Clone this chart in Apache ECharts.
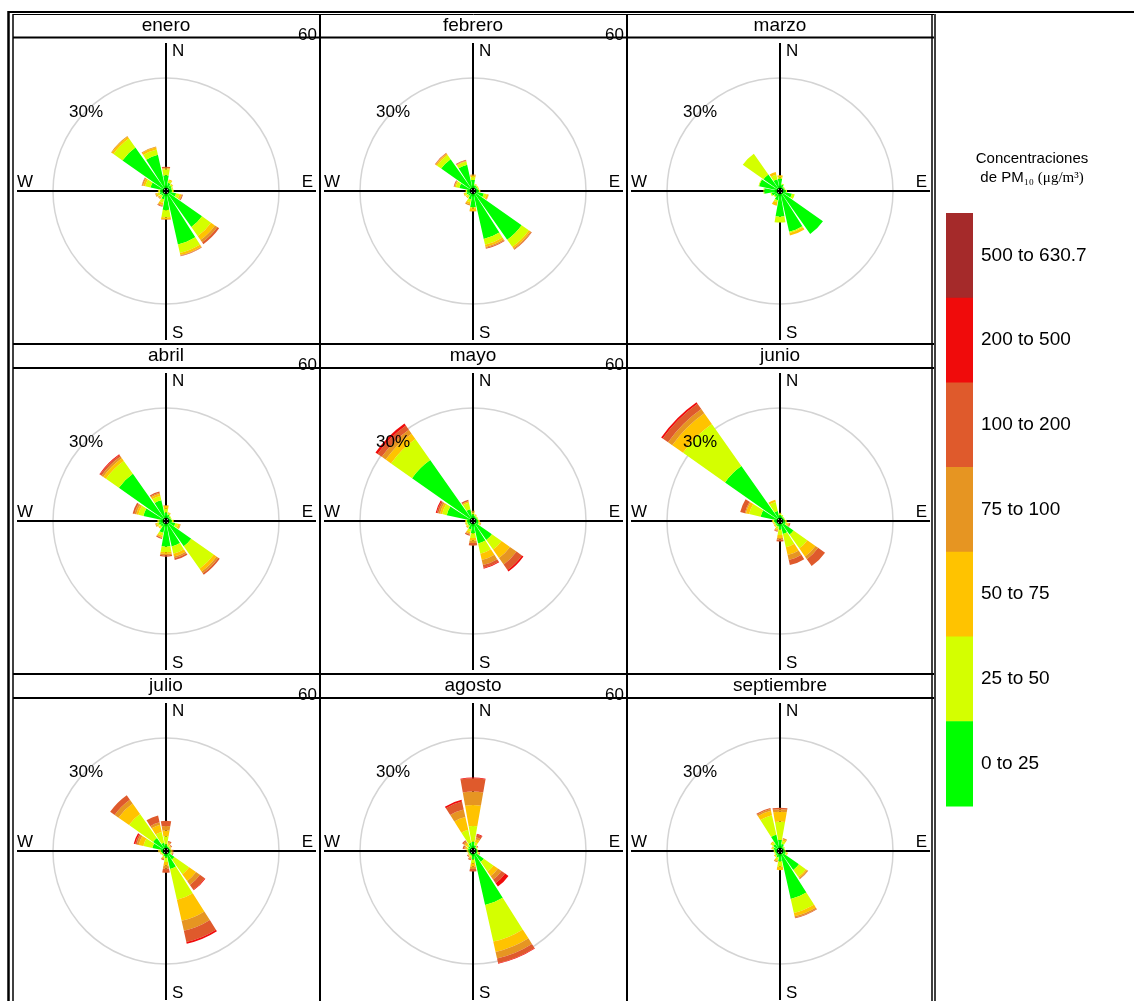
<!DOCTYPE html>
<html>
<head>
<meta charset="utf-8">
<script src="https://cdn.jsdelivr.net/npm/echarts@6/dist/echarts.min.js"></script>
<style>
  html, body { margin: 0; padding: 0; background: #fff; }
  #chart { width: 1134px; height: 1001px; }
</style>
</head>
<body>
<div id="chart"></div>
<script>
// direcciones (cada 22.5 grados, desde el norte en sentido horario)
const directions = ["N", "NNE", "NE", "ENE", "E", "ESE", "SE", "SSE", "S", "SSW", "SW", "WSW", "W", "WNW", "NW", "NNW"];
const bandLabels = ["0 to 25", "25 to 50", "50 to 75", "75 to 100", "100 to 200", "200 to 500", "500 to 630.7"];
const bandColors = ["#00FF00", "#D4FF00", "#FFC300", "#E69522", "#DF5A2C", "#F00B0B", "#A52A2A"];
const monthNames = ["enero", "febrero", "marzo", "abril", "mayo", "junio", "julio", "agosto", "septiembre"];
const radialTicks = [0, 30, 60];

// % de frecuencia por direccion; cada fila = bandas de concentracion apiladas
const enero = [
  [3.5, 1.6, 0.3, 0.1, 0.3], [1.5, 0.6, 0.3], [1.0, 0.4, 0.2], [0.8, 0.3, 0.1],
  [0.8, 0.3, 0.2], [2.0, 1.0, 0.5, 0.2, 0.2], [11.2, 3.0, 1.3, 0.8, 0.6], [14.1, 2.4, 0.6, 0.2, 0.1],
  [4.4, 2.0, 0.5, 0.1, 0.1], [1.5, 1.0, 0.6, 0.3, 0.2], [0.8, 0.5, 0.4, 0.2], [1.0, 0.6, 0.4, 0.2],
  [0.8, 0.4, 0.2], [3.5, 1.5, 0.6, 0.3, 0.1], [13.7, 3.0, 0.6, 0.2], [9.3, 1.5, 0.6, 0.2]
];
const febrero = [
  [2.2, 0.8, 0.5, 0.2], [0.8, 0.3, 0.1], [0.6, 0.3, 0.1], [0.6, 0.3],
  [0.8, 0.3, 0.1], [2.2, 0.8, 0.5, 0.1], [15.4, 2.4, 0.5, 0.3, 0.2], [12.6, 1.6, 0.6, 0.3, 0.2],
  [3.6, 0.3, 0.8, 0.1], [1.5, 0.8, 0.6, 0.3], [0.8, 0.5, 0.3], [1.0, 0.5, 0.3],
  [0.8, 0.3, 0.1], [3.0, 1.0, 0.3, 0.1, 0.2], [9.8, 1.4, 0.4, 0.2, 0.1], [6.5, 0.9, 0.2, 0.1, 0.2]
];
const marzo = [
  [2.5, 0.4, 0.6], [1.0, 0.3], [0.5, 0.2], [0.5, 0.2],
  [0.8, 0.3], [2.5, 0.8], [13.5], [10.6, 0.3, 0.7],
  [6.2, 1.6], [1.8, 0.5, 1.0], [1.0, 0.3], [1.5, 0.3],
  [3.5, 0.2], [5.0, 0.2], [4.7, 6.9], [2.5, 1.2, 0.8]
];
const abril = [
  [1.5, 1.0, 0.8, 0.2], [1.0, 0.4, 0.2], [0.6, 0.3], [0.6, 0.2],
  [0.8, 0.3, 0.2], [1.8, 0.8, 0.5, 0.2], [7.6, 7.5, 0.9, 0.6, 0.5], [6.3, 2.0, 0.8, 0.5, 0.5],
  [6.2, 1.5, 0.5, 0.3, 0.4], [2.5, 0.8, 0.5, 0.1, 0.3], [1.0, 0.5, 0.3], [1.2, 0.5, 0.3, 0.2],
  [1.0, 0.3, 0.2], [5.5, 1.4, 0.6, 0.5, 0.5], [14.9, 4.3, 0.9, 0.6, 0.5, 0.2], [5.0, 1.2, 0.6, 0.3, 0.3]
];
const mayo = [
  [1.0, 0.5, 0.3, 0.2], [0.6, 0.3, 0.2], [0.5, 0.2, 0.1], [0.5, 0.2],
  [0.6, 0.3, 0.2], [0.8, 0.4, 0.2, 0.1], [5.5, 3.2, 2.8, 2.2, 1.8, 0.5], [5.5, 2.8, 1.8, 1.4, 0.8, 0.2],
  [2.5, 1.3, 0.8, 0.6, 0.7], [1.5, 0.7, 0.5, 0.3, 0.3], [0.8, 0.4, 0.3, 0.1], [0.8, 0.4, 0.2],
  [0.8, 0.3, 0.2], [6.5, 1.3, 0.6, 0.5, 0.4, 0.3], [19.5, 7.0, 1.8, 1.3, 1.4, 0.7], [2.5, 1.8, 0.4, 0.0, 0.4]
];
const junio = [
  [0.8, 0.4, 0.2], [0.6, 0.3], [0.4, 0.2], [0.4, 0.2],
  [0.5, 0.3, 0.2], [0.8, 0.5, 0.3, 0.2, 0.3], [3.7, 4.6, 2.7, 0.9, 2.3], [2.8, 3.7, 2.2, 1.4, 1.4],
  [1.5, 1.5, 0.8, 0.5, 0.5], [0.8, 0.6, 0.4, 0.2, 0.2], [0.6, 0.4, 0.2], [0.6, 0.3, 0.2],
  [0.8, 0.4, 0.2], [4.6, 3.2, 0.9, 0.3, 1.3], [17.5, 14.0, 3.6, 1.4, 1.8, 0.5], [2.0, 2.5, 0.6]
];
const julio = [
  [1.0, 2.2, 1.6, 1.2, 1.4], [0.5, 0.5, 0.4, 0.3, 0.3], [0.4, 0.3, 0.2, 0.1, 0.2], [0.3, 0.2, 0.2],
  [0.4, 0.3, 0.2, 0.1, 0.2], [0.5, 0.3, 0.2, 0.1, 0.2], [2.0, 4.9, 2.3, 1.3, 1.6, 0.2], [4.2, 8.6, 5.9, 2.8, 3.1, 0.5],
  [1.0, 1.2, 1.0, 0.8, 1.1], [0.6, 0.4, 0.3, 0.2, 0.3], [0.3, 0.2, 0.2], [0.4, 0.3, 0.2],
  [0.6, 0.4, 0.3], [3.0, 2.5, 1.3, 0.6, 0.4, 0.4], [3.5, 8.0, 3.5, 1.3, 1.5], [1.5, 3.0, 2.0, 0.7, 1.9]
];
const agosto = [
  [1.7, 4.3, 5.7, 3.7, 3.6, 0.2], [0.8, 0.8, 0.8, 0.6, 0.8, 0.2], [0.3, 0.2, 0.2, 0.1, 0.2], [0.3, 0.2],
  [0.3, 0.2, 0.1], [0.4, 0.3, 0.2, 0.1, 0.2], [2.8, 3.2, 1.5, 1.2, 1.2, 1.1], [14.3, 10.2, 2.9, 1.8, 1.3, 0.2],
  [1.5, 1.0, 1.0, 0.6, 0.7], [0.5, 0.4, 0.4, 0.2, 0.3], [0.4, 0.3, 0.2, 0.1, 0.2], [0.3, 0.2, 0.2],
  [0.4, 0.3, 0.2], [0.6, 0.4, 0.4, 0.3, 0.4], [0.8, 0.6, 0.6, 0.4, 0.4], [1.5, 3.6, 3.6, 2.1, 2.2, 0.5]
];
const septiembre = [
  [2.2, 5.0, 2.7, 0.7, 0.4], [1.2, 0.8, 0.5, 0.3], [0.5, 0.3], [0.4, 0.2],
  [0.5, 0.2], [0.8, 0.4, 0.2], [5.5, 2.3, 0.4, 0.3, 0.1], [12.6, 3.9, 0.9, 0.4, 0.2],
  [2.0, 1.5, 0.9], [1.0, 0.6, 0.4, 0.3], [0.6, 0.4, 0.2], [0.5, 0.3],
  [0.6, 0.3], [1.0, 0.4, 0.2], [1.5, 0.6, 0.3], [3.7, 5.5, 1.2, 0.5, 0.3]
];
const months = [enero, febrero, marzo, abril, mayo, junio, julio, agosto, septiembre];

// disposicion de los paneles
const colX = [166, 473, 780];
const rowY = [191, 521, 851];
const headerY = [26, 356, 686];
const FONT = "'Liberation Sans', Arial, sans-serif";

const chart = echarts.init(document.getElementById("chart"));

const polar = [];
const angleAxis = [];
const radiusAxis = [];
const series = [];
const graphics = [];

const line = (x1, y1, x2, y2, w, z, color) => ({
  type: "line",
  shape: { x1, y1, x2, y2 },
  style: { stroke: color || "#000", lineWidth: w },
  z: z,
  silent: true,
});
const text = (x, y, t, size, align, z) => ({
  type: "text",
  x, y,
  style: { text: t, fontSize: size, fontFamily: FONT, fill: "#000", align: align || "center", verticalAlign: "middle" },
  z: z || 5,
  silent: true,
});

months.forEach((rows, i) => {
  const cx = colX[i % 3];
  const cy = rowY[Math.floor(i / 3)];

  polar.push({ center: [cx, cy], radius: [3, 223] });
  angleAxis.push({
    polarIndex: i,
    type: "category",
    data: directions,
    startAngle: 90 + 11.25,
    clockwise: true,
    axisLine: { show: false },
    axisTick: { show: false },
    axisLabel: { show: false },
    splitLine: { show: false },
  });
  radiusAxis.push({
    polarIndex: i,
    min: radialTicks[0],
    max: radialTicks[radialTicks.length - 1],
    interval: radialTicks[1] - radialTicks[0],
    axisLine: { show: false },
    axisTick: { show: false },
    axisLabel: { show: false },
    splitLine: {
      show: true,
      lineStyle: { color: ["#000000", "#d4d4d4", "rgba(0,0,0,0)"], width: 1.5 },
    },
  });

  bandLabels.forEach((band, k) => {
    series.push({
      type: "bar",
      name: band,
      coordinateSystem: "polar",
      polarIndex: i,
      stack: "mes" + i,
      barCategoryGap: "12%",
      data: rows.map((r) => r[k] || 0),
      itemStyle: { color: bandColors[k] },
      silent: true,
    });
  });

  // ejes N-S / E-W
  graphics.push(line(cx, cy - 148, cx, cy + 149, 2, 1));
  graphics.push(line(cx - 149, cy, cx + 150, cy, 2, 1));
  graphics.push(text(cx + 6, cy - 140, "N", 17, "left"));
  graphics.push(text(cx + 6, cy + 142, "S", 17, "left"));
  graphics.push(text(cx - 149, cy - 9, "W", 17, "left"));
  graphics.push(text(cx + 147, cy - 9, "E", 17, "right"));
  graphics.push(text(cx - 80, cy - 79, radialTicks[1] + "%", 17, "center"));
  if (i % 3 > 0) {
    graphics.push(text(cx - 156, cy - 156, String(radialTicks[2]), 17, "right", 12));
  }
  graphics.push(text(cx, headerY[Math.floor(i / 3)], monthNames[i], 19, "center", 11));
});

// marco de los paneles
graphics.push(line(8, 12, 1134, 12, 2, 10));
graphics.push(line(13, 14.5, 934, 14.5, 1, 10));
graphics.push(line(8.5, 11, 8.5, 1001, 2.5, 10));
graphics.push(line(13, 14, 13, 1001, 1.5, 10));
[320, 627].forEach((x) => graphics.push(line(x, 14, x, 1001, 2, 10)));
graphics.push(line(932, 14, 932, 1001, 1.5, 10));
graphics.push(line(935, 14, 935, 1001, 1.5, 10));
[37.5, 368, 698].forEach((y) => graphics.push(line(13, y, 934, y, 2, 10)));
[344, 674].forEach((y) => graphics.push(line(13, y, 934, y, 2, 10)));

// leyenda de colores
const legTop = 213;
const legStep = 84.7;
bandLabels.slice().reverse().forEach((band, j) => {
  const k = bandLabels.length - 1 - j;
  graphics.push({
    type: "rect",
    shape: { x: 946, y: legTop + j * legStep, width: 27, height: legStep + 0.5 },
    style: { fill: bandColors[k] },
    z: 5,
    silent: true,
  });
  graphics.push(text(981, legTop + j * legStep + legStep / 2, band, 19, "left"));
});
graphics.push(text(1032, 159, "Concentraciones", 15, "center"));
graphics.push({
  type: "text",
  x: 1032,
  y: 178,
  style: {
    text: "{a|de PM}{b|₁₀ (μg/m³)}",
    align: "center",
    verticalAlign: "middle",
    rich: {
      a: { fontSize: 15, fontFamily: FONT, fill: "#000" },
      b: { fontSize: 15, fontFamily: "'Liberation Serif', 'DejaVu Serif', serif", fill: "#000" },
    },
  },
  z: 5,
  silent: true,
});

chart.setOption({
  backgroundColor: "#ffffff",
  animation: false,
  polar,
  angleAxis,
  radiusAxis,
  series,
  graphic: { elements: graphics },
});
</script>
</body>
</html>
